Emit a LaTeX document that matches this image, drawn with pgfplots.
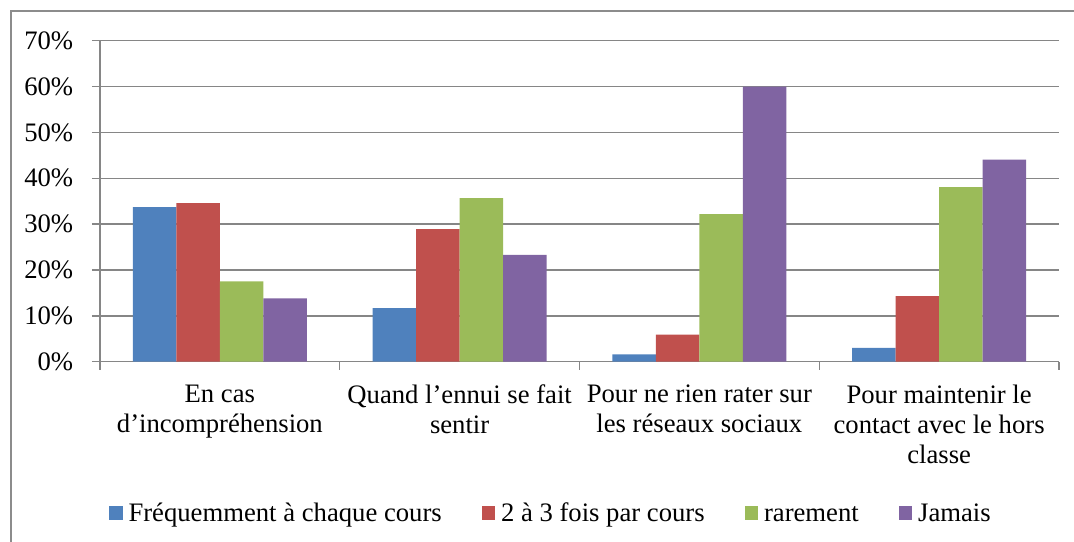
\documentclass[border=0pt]{standalone}
\usepackage{fontspec}
\setmainfont{Liberation Serif}
\usepackage{pgfplots}
\pgfplotsset{compat=1.18}
\definecolor{cBlue}{HTML}{4F81BD}
\definecolor{cRed}{HTML}{C0504D}
\definecolor{cGreen}{HTML}{9BBB59}
\definecolor{cPurple}{HTML}{8064A2}
\definecolor{gridGray}{HTML}{868686}
\definecolor{frameGray}{HTML}{8C8C8C}
\begin{document}
\begin{tikzpicture}
\useasboundingbox (0,0) rectangle (805.5bp,406.5bp);
\draw[color=frameGray, line width=1.1bp] (8.25bp,0) -- (8.25bp,398.25bp) -- (805.5bp,398.25bp);
\begin{axis}[
  at={(75bp,135.2bp)}, anchor=south west,
  scale only axis, width=719.25bp, height=240.75bp,
  xmin=-0.5, xmax=3.5, ymin=0, ymax=70,
  axis x line=bottom, axis y line=left,
  axis line style={-, draw=gridGray, line width=1.1bp},
  ytick={0,10,...,70},
  yticklabel={\pgfmathprintnumber{\tick}\%},
  /pgf/number format/assume math mode=true,
  ymajorgrids, grid style={draw=gridGray, line width=1.1bp},
  tick align=outside, major tick length=6bp, minor tick length=6bp,
  tick style={draw=gridGray, line width=1.1bp},
  xtick={0,1,2,3},
  xticklabels={{En cas\\d’incompréhension},{Quand l’ennui se fait\\sentir},{Pour ne rien rater sur\\les réseaux sociaux},{Pour maintenir le\\contact avec le hors\\classe}},
  major x tick style={draw=none},
  minor xtick={-0.5,0.5,1.5,2.5,3.5},
  yticklabel style={font=\fontsize{20bp}{22.5bp}\selectfont, anchor=east, xshift=-10.6bp},
  xticklabel style={font=\fontsize{20bp}{22.5bp}\selectfont, align=center, anchor=north, yshift=-8bp},
  ybar=0pt, bar width=0.1815,
  legend columns=4,
  legend style={at={(0.4692,-0.4723)}, anchor=center, draw=none, fill=none,
    font=\fontsize{20bp}{22.5bp}\selectfont,
    nodes={inner sep=0pt, anchor=base},
    /tikz/every odd column/.append style={column sep=4.5bp},
    /tikz/every even column/.append style={column sep=30bp}},
  legend image code/.code={\fill[#1] (0bp,1.5bp) rectangle (10bp,11.5bp);},
]
\addplot[fill=cBlue, draw=none] coordinates {(0,33.7) (1,11.7) (2,1.6) (3,3.0)};
\addplot[fill=cRed, draw=none] coordinates {(0,34.6) (1,28.9) (2,5.9) (3,14.3)};
\addplot[fill=cGreen, draw=none] coordinates {(0,17.5) (1,35.7) (2,32.2) (3,38.1)};
\addplot[fill=cPurple, draw=none] coordinates {(0,13.8) (1,23.3) (2,60.0) (3,44.1)};
\legend{Fréquemment à chaque cours, 2 à 3 fois par cours, rarement, Jamais}
\end{axis}
\end{tikzpicture}
\end{document}
